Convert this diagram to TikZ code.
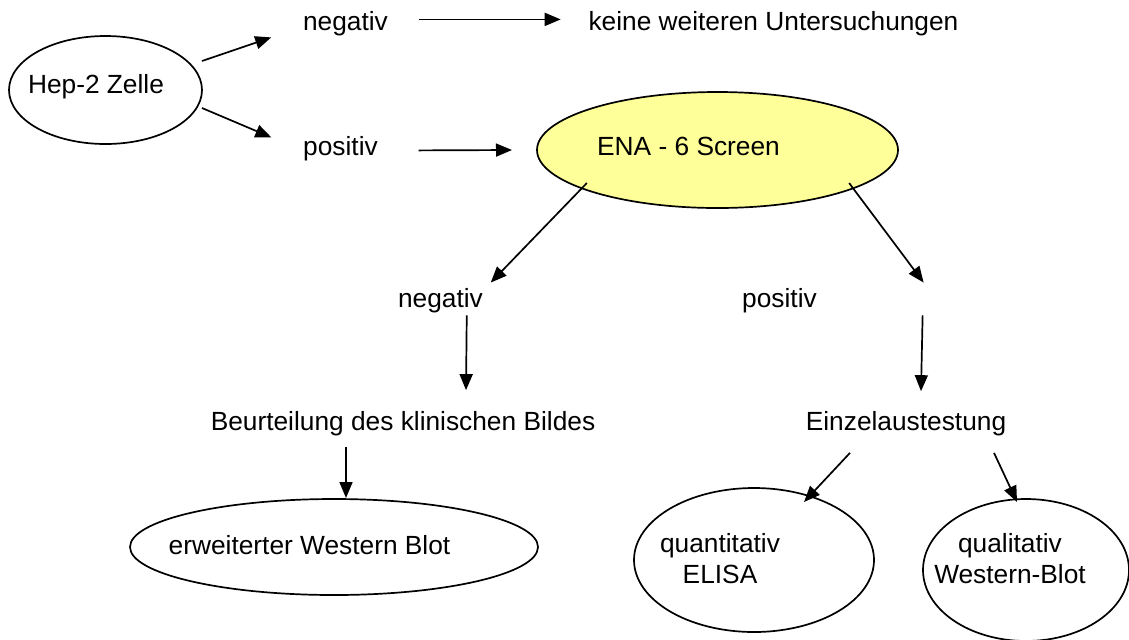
\documentclass[tikz,border=0pt]{standalone}
\usepackage{fontspec}
\setmainfont{Liberation Sans}
\usetikzlibrary{positioning, arrows.meta, shapes.geometric}
\definecolor{enayellow}{RGB}{255,255,153}
\tikzset{
    ->, % makes the edges directed
    >={Triangle[length=8pt, width=6.5pt]}, % filled arrow heads
    x=0.5pt, y=-0.5pt, % one unit is one pixel, y runs downwards
    txt/.style={inner sep=0pt, text height=0.75em, text depth=0.25em}, % plain text nodes
    oval/.style={ellipse, draw, inner sep=0pt, outer sep=0pt}, % the ellipses
    }

\begin{document}
\begin{tikzpicture}[line width=0.85pt, font=\fontsize{13.15}{15.5}\selectfont]

\useasboundingbox (0,0) rectangle (1129,639);

\node[oval, minimum width=96.5pt, minimum height=54pt, label={[shift={(-9.5,-3)}]center:Hep-2 Zelle}] (hep) at (105.5,90) {};
\node[oval, fill=enayellow, minimum width=180.5pt, minimum height=58pt, label={[shift={(-29,-4)}]center:ENA - 6 Screen}] (ena) at (717.5,150) {};
\node[oval, minimum width=204pt, minimum height=48pt, label={[shift={(-24.5,-2)}]center:erweiterter Western Blot}] (erw) at (334,547) {};
\node[oval, minimum width=120pt, minimum height=72pt, label={[align=center, shift={(-34,-1)}]center:quantitativ\\ELISA}] (elisa) at (754,560) {};
\node[oval, minimum width=103pt, minimum height=71pt, label={[align=center, shift={(-16,-11)}]center:qualitativ\\Western-Blot}] (wblot) at (1026,570) {};

\node[txt] (negA) at (345.5,25.4) {negativ};
\node[txt, right of=negA, node distance=214pt] (keine) {keine weiteren Untersuchungen};
\node[txt] (posA) at (340.5,150.4) {positiv};
\node[txt] (negB) at (440.5,302.4) {negativ};
\node[txt, right of=negB, node distance=169.5pt] (posB) {positiv};
\node[txt] (beurt) at (403,425) {Beurteilung des klinischen Bildes};
\node[txt, right of=beurt, node distance=251.5pt] (einzel) {Einzelaustestung};

\path ([shift={(0,-29)}]hep.east) edge ([shift={(-31,12)}]negA.west)
      ([shift={(0,18)}]hep.east) edge ([shift={(-31,-13)}]posA.west)
      ([shift={(30,-6)}]negA.east) edge ([shift={(-27,-6)}]keine.west)
      ([shift={(40,0)}]posA.east) edge ([shift={(-25,0)}]ena.west)
      ([shift={(-3,-8)}]ena.south west) edge ([shift={(7,-9)}]negB.north east)
      ([shift={(4,-8)}]ena.south east) edge ([shift={(106,-9)}]posB.north east)
      ([shift={(-17,2)}]negB.south east) edge ([shift={(63,-24)}]beurt.north)
      ([shift={(105,2)}]posB.south east) edge ([shift={(15,-23)}]einzel.north)
      ([shift={(-57,11)}]beurt.south) edge ([shift={(12,-1)}]erw.north)
      ([shift={(-56,17)}]einzel.south) edge ([shift={(50,14)}]elisa.north)
      ([shift={(-13,17)}]einzel.south east) edge ([shift={(-9,3)}]wblot.north);

\end{tikzpicture}
\end{document}
